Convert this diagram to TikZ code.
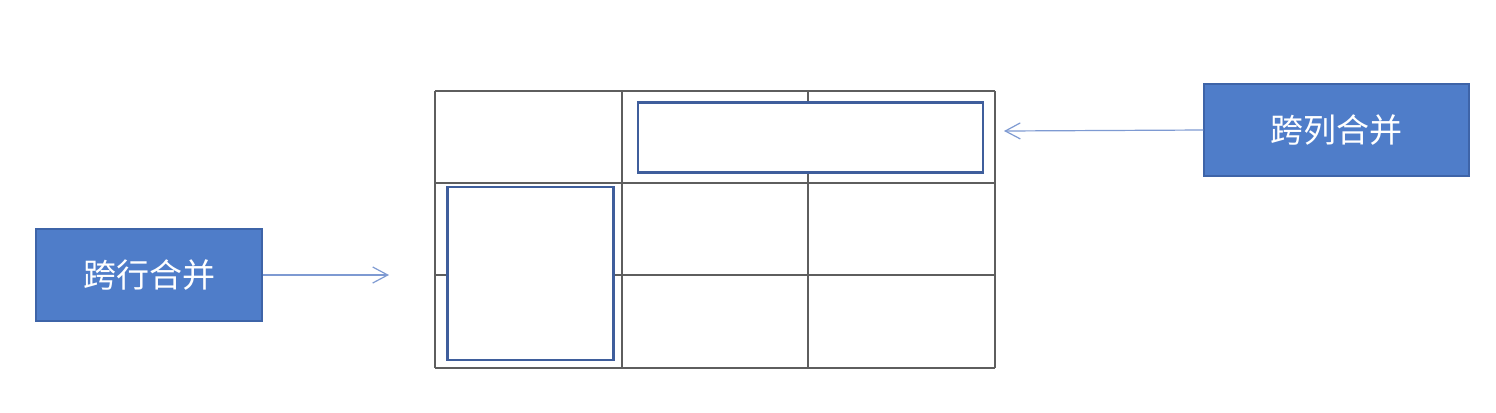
\documentclass[tikz,border=0pt]{standalone}
\usepackage{fontspec}
\newfontfamily\cjk{Noto Sans CJK SC}
\usetikzlibrary{arrows.meta}
\definecolor{boxblue}{HTML}{4F7DC9}
\definecolor{boxedge}{HTML}{3E64A8}
\definecolor{gridgray}{HTML}{5E5E5E}
\definecolor{mergeedge}{HTML}{3F5E9C}
\definecolor{arrowblue}{HTML}{7E9AD2}
\begin{document}
\begin{tikzpicture}[x=1bp,y=-1bp,
  labelbox/.style={draw=boxedge, line width=1.2bp, fill=boxblue, text=white,
    font=\cjk\fontsize{33bp}{38bp}\selectfont, inner sep=0pt},
  merged/.style={draw=mergeedge, line width=2.5bp, fill=white, inner sep=0pt},
  gridline/.style={draw=gridgray, line width=2bp},
  pointer/.style={draw=arrowblue, line width=1.2bp, -{Straight Barb[length=15bp,width=16bp]}}]
\useasboundingbox (0,0) rectangle (1496,412);
\fill[white] (0,0) rectangle (1496,412);
% table grid
\foreach \x in {435,622,808,995} \draw[gridline] (\x,91) -- (\x,368);
\foreach \y in {91,183,275,368} \draw[gridline] (435,\y) -- (995,\y);
% merged cells
\node[merged, minimum width=345bp, minimum height=70bp] (colspan) at (810.5,137.5) {};
\node[merged, minimum width=166bp, minimum height=173bp] (rowspan) at (530.5,273.5) {};
% label boxes
\node[labelbox, minimum width=265bp, minimum height=92bp] (colbox) at (1336.5,130) {跨列合并};
\node[labelbox, minimum width=226bp, minimum height=92bp] (rowbox) at (149,275) {跨行合并};
% pointers
\coordinate (coltip) at (1004,131);
\coordinate (rowtip) at (389,275);
\draw[pointer] (colbox.west) -- (coltip);
\draw[pointer] (rowbox.east) -- (rowtip);
\end{tikzpicture}
\end{document}
